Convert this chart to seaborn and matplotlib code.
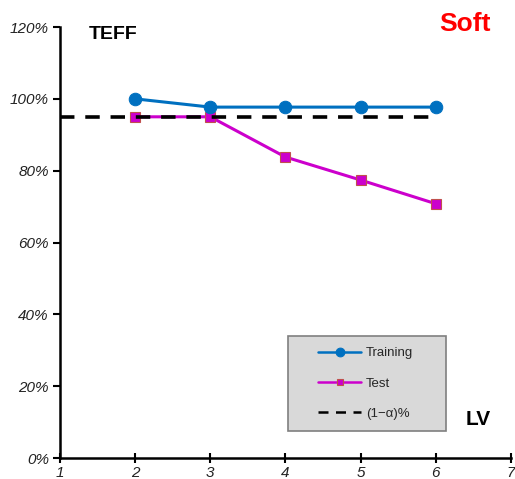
import matplotlib
matplotlib.use("Agg")
import matplotlib.pyplot as plt
import seaborn as sns
import pandas as pd
from matplotlib.ticker import FuncFormatter
from matplotlib.patches import Rectangle

lv = [2, 3, 4, 5, 6]
training = [100.0, 97.7, 97.7, 97.7, 97.7]
test = [95.0, 95.0, 83.8, 77.4, 70.8]
threshold_x = [1, 6]
threshold_y = [95.0, 95.0]
yticks = [0, 20, 40, 60, 80, 100, 120]
xticks = [1, 2, 3, 4, 5, 6, 7]

sns.set_theme(style="white")
plt.rcParams['font.family'] = ['Liberation Sans', 'DejaVu Sans']

fig = plt.figure(figsize=(5.15, 4.79), dpi=100)
ax = fig.add_axes([0.1165, 0.0438, 0.8755, 0.8998])

df_tr = pd.DataFrame({"LV": lv, "v": training})
df_te = pd.DataFrame({"LV": lv, "v": test})
df_th = pd.DataFrame({"LV": threshold_x, "v": threshold_y})

sns.lineplot(data=df_tr, x="LV", y="v", ax=ax, color="#0070c0", lw=2.2,
             marker="o", markersize=9, markeredgecolor="#0070c0", label="Training", zorder=4)
sns.lineplot(data=df_te, x="LV", y="v", ax=ax, color="#cc00cc", lw=2.2,
             marker="s", markersize=6.5, markeredgecolor="#c0504d", markeredgewidth=0.8,
             label="Test", zorder=3)
sns.lineplot(data=df_th, x="LV", y="v", ax=ax, color="black", lw=2.6,
             linestyle=(0, (4, 3)), label="(1\u2212\u03b1)%", zorder=5)

ax.set_xlim(1, 7)
ax.set_ylim(0, 120)
ax.set_xticks(xticks)
ax.set_yticks(yticks)
ax.yaxis.set_major_formatter(FuncFormatter(lambda v, p: f"{int(v)}%"))
ax.set_xlabel("")
ax.set_ylabel("")
for lab in ax.get_xticklabels() + ax.get_yticklabels():
    lab.set_fontstyle("italic")
    lab.set_fontsize(11)
    lab.set_color("#222222")
ax.tick_params(axis="y", direction="out", length=5, width=1.5, color="black", pad=3, left=True)
ax.tick_params(axis="x", direction="inout", length=7, width=1.5, color="black", pad=2, bottom=True)
sns.despine(ax=ax)
for s in ["left", "bottom"]:
    ax.spines[s].set_color("black")
    ax.spines[s].set_linewidth(1.8)

ax.text(1.38, 118, "TEFF", fontsize=14, fontweight="bold", color="black", va="center")
ax.text(6.04, 120.9, "Soft", fontsize=19, fontweight="bold", color="red", va="center",
        clip_on=False)
ax.text(6.4, 10.6, "LV", fontsize=15, fontweight="bold", color="black", va="center")

# legend box background
ax.add_patch(Rectangle((0.5055, 0.0626), 0.350, 0.220, transform=ax.transAxes,
                       facecolor="#d9d9d9", edgecolor="#7f7f7f", lw=1.2, zorder=6))
leg = ax.legend(loc="upper left", bbox_to_anchor=(0.572, 0.257), borderaxespad=0,
                borderpad=0, frameon=False, fontsize=9.5, labelspacing=1.36,
                handlelength=3.3, handletextpad=0.35, markerscale=0.7)
leg.set_zorder(7)
for h in leg.get_lines():
    h.set_linewidth(1.8)

fig.savefig("out.png", dpi=100)
